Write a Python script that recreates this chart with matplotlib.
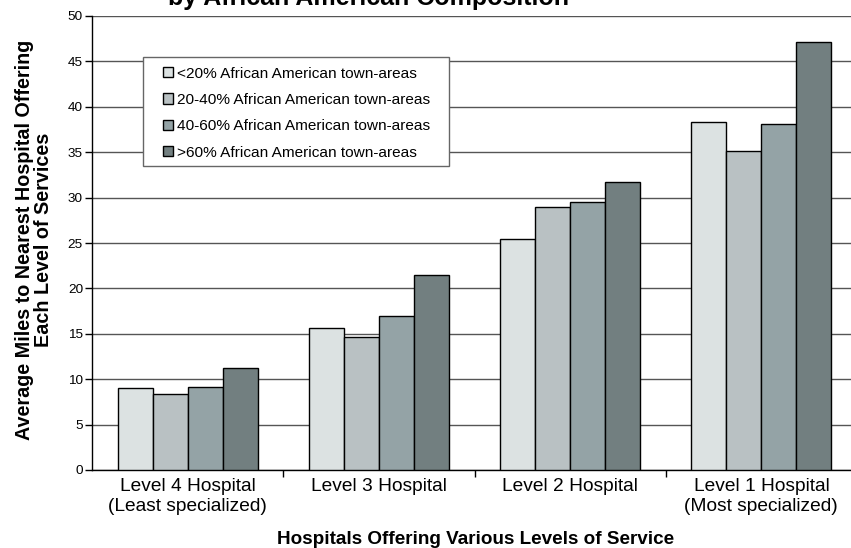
import numpy as np
import matplotlib.pyplot as plt
from matplotlib.patches import Rectangle

plt.rcParams['font.family'] = ['Liberation Sans', 'DejaVu Sans']

categories = ['Level 4 Hospital\n(Least specialized)', 'Level 3 Hospital',
              'Level 2 Hospital', 'Level 1 Hospital\n(Most specialized)']
series_names = ['<20% African American town-areas',
                '20-40% African American town-areas',
                '40-60% African American town-areas',
                '>60% African American town-areas']
under20 = [9.0, 15.6, 25.4, 38.3]
from20to40 = [8.4, 14.6, 29.0, 35.1]
from40to60 = [9.1, 17.0, 29.5, 38.1]
over60 = [11.2, 21.5, 31.7, 47.1]
colors = ['#dce2e2', '#b9c1c3', '#94a3a6', '#727f80']

W, H = 851, 548
fig = plt.figure(figsize=(W / 100, H / 100), dpi=100)
ax = fig.add_axes([92 / W, (H - 470) / H, 765 / W, 454 / H])

x = np.arange(len(categories))
w = 0.183
for i, (vals, name) in enumerate(zip([under20, from20to40, from40to60, over60], series_names)):
    ax.bar(x + (i - 1.5) * w, vals, w, color=colors[i], edgecolor='black',
           linewidth=1, label=name, zorder=3)

ax.set_xlim(-0.5, 3.5)
ax.set_ylim(0, 50)
ax.set_yticks(np.arange(0, 51, 5))
ax.yaxis.grid(True, color='#555555', linewidth=1)
ax.set_axisbelow(True)
ax.tick_params(axis='y', labelsize=9.7, length=5, width=1, direction='out', pad=1.5)
ax.set_xticks(x)
ax.set_xticklabels(categories, fontsize=13.8, linespacing=1.2)
ax.tick_params(axis='x', which='major', length=0, pad=6)
ax.set_xticks([0.5, 1.5, 2.5], minor=True)
ax.tick_params(axis='x', which='minor', length=5, width=1, direction='out')
for s in ['top', 'right']:
    ax.spines[s].set_visible(False)
ax.spines['left'].set_linewidth(1)
ax.spines['bottom'].set_linewidth(1)

fig.text(34 / W, 1 - 240 / H,
         'Average Miles to Nearest Hospital Offering\nEach Level of Services',
         rotation=90, ha='center', va='center', fontsize=14.2,
         fontweight='bold', linespacing=1.0)
fig.text(476 / W, 1 - 540 / H, 'Hospitals Offering Various Levels of Service',
         ha='center', va='center', fontsize=13.6, fontweight='bold')

# title's first line lies above the picture; only the bottom of the second shows
fig.text(369 / W, 1 - 4.5 / H, 'by African American Composition', ha='center',
         va='baseline', fontsize=18, fontweight='bold')

ax.add_patch(Rectangle((143 / W, 1 - 166 / H), 306 / W, 109 / H,
                       transform=fig.transFigure, facecolor='white',
                       edgecolor='#666666', linewidth=1, zorder=4,
                       clip_on=False))
leg = ax.legend(loc='upper left', bbox_to_anchor=(155 / W, 1 - 59 / H),
                bbox_transform=fig.transFigure, frameon=False, borderpad=0,
                fontsize=11.1, handlelength=0.65, handleheight=0.65,
                handletextpad=0.25, labelspacing=0.8)
leg.set_zorder(5)

fig.savefig('out.png', dpi=100)
